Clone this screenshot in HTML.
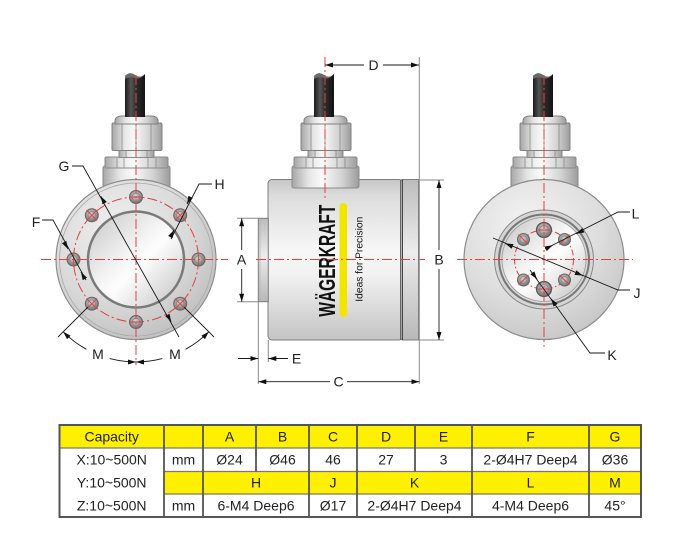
<!DOCTYPE html>
<html><head><meta charset="utf-8"><style>
html,body{margin:0;padding:0;background:#fff;}
svg{display:block;}
text{font-family:"Liberation Sans",Arial,sans-serif;}
</style></head><body>
<svg width="700" height="541" viewBox="0 0 700 541" xmlns="http://www.w3.org/2000/svg">
<defs>
 <linearGradient id="mh" x1="0" y1="0" x2="1" y2="0">
  <stop offset="0" stop-color="#a6a6a6"/><stop offset=".25" stop-color="#e6e6e6"/><stop offset=".45" stop-color="#fafafa"/><stop offset=".75" stop-color="#d2d2d2"/><stop offset="1" stop-color="#9c9c9c"/>
 </linearGradient>
 <linearGradient id="cab" x1="0" y1="0" x2="1" y2="0">
  <stop offset="0" stop-color="#1a1a1a"/><stop offset=".3" stop-color="#555"/><stop offset=".55" stop-color="#2e2e2e"/><stop offset="1" stop-color="#121212"/>
 </linearGradient>
 <linearGradient id="body" x1="0" y1="0" x2="0" y2="1">
  <stop offset="0" stop-color="#c6c6c6"/><stop offset=".1" stop-color="#dcdcdc"/><stop offset=".45" stop-color="#f7f7f7"/><stop offset=".6" stop-color="#f1f1f1"/><stop offset="1" stop-color="#c4c4c4"/>
 </linearGradient>
 <linearGradient id="fl" x1="0" y1="0" x2="0" y2="1">
  <stop offset="0" stop-color="#bcbcbc"/><stop offset=".45" stop-color="#ececec"/><stop offset="1" stop-color="#b8b8b8"/>
 </linearGradient>
 <radialGradient id="disk" cx=".38" cy=".32" r=".75">
  <stop offset="0" stop-color="#f0f0f0"/><stop offset=".6" stop-color="#d9d9d9"/><stop offset="1" stop-color="#bdbdbd"/>
 </radialGradient>
 <radialGradient id="disk2" cx=".4" cy=".3" r=".8">
  <stop offset="0" stop-color="#f3f3f3"/><stop offset=".55" stop-color="#dedede"/><stop offset="1" stop-color="#c2c2c2"/>
 </radialGradient>
 <linearGradient id="rec" x1="0" y1="0" x2="1" y2="1">
  <stop offset="0" stop-color="#c4c4c4"/><stop offset=".45" stop-color="#f6f6f6"/><stop offset=".55" stop-color="#fdfdfd"/><stop offset="1" stop-color="#bfbfbf"/>
 </linearGradient>
 <radialGradient id="bg" cx=".45" cy=".4" r=".6">
  <stop offset="0" stop-color="#d4d4d4"/><stop offset=".6" stop-color="#9c9c9c"/><stop offset="1" stop-color="#707070"/>
 </radialGradient>
 <marker id="a" viewBox="0 0 8 5" refX="8" refY="2.5" markerWidth="8" markerHeight="5" markerUnits="userSpaceOnUse" orient="auto-start-reverse"><path d="M0,0L8,2.5L0,5z" fill="#111"/></marker>
 <g id="top">
  <rect x="103" y="166" width="67" height="22" rx="2" fill="url(#mh)" stroke="#8a8a8a"/>
  <rect x="105" y="157" width="63" height="11" rx="1.5" fill="url(#mh)" stroke="#8a8a8a"/>
  <path d="M117,157V168M124,157V168M148,157V168M156,157V168" stroke="#8a8a8a" stroke-width=".8"/>
  <rect x="119" y="150" width="35" height="7.5" fill="url(#mh)" stroke="#8a8a8a"/>
  <path d="M126,150V157.5M147,150V157.5" stroke="#8a8a8a" stroke-width=".8"/>
  <rect x="112" y="123" width="50" height="27.5" rx="1.5" fill="url(#mh)" stroke="#808080"/>
  <path d="M122,124V150M136,124V150M151,124V150" stroke="#8a8a8a" stroke-width=".8"/>
  <path d="M115,124L115,120Q116,116 122,116L151,116Q157,116 158,120L158,124Z" fill="url(#mh)" stroke="#808080"/>
  <path d="M125,76Q130,71 135,75T145,74L145,117L125,117Z" fill="url(#cab)"/>
  <path d="M125,76Q130,71 135,75T145,74Q140,80 135,78Q130,76 125,79Z" fill="#6a6a6a"/>
 </g>
 <g id="bolt"><circle r="6.5" fill="url(#bg)" stroke="#666" stroke-width="1"/><circle r="3.8" fill="none" stroke="#8a8a8a" stroke-width=".8"/></g>
 <g id="boltb"><circle r="7.5" fill="url(#bg)" stroke="#555" stroke-width="1.2"/><circle r="4.5" fill="none" stroke="#888" stroke-width=".8"/></g>
 <g id="bolts"><circle r="6" fill="url(#bg)" stroke="#666" stroke-width="1"/><circle r="3.5" fill="none" stroke="#8a8a8a" stroke-width=".8"/></g>
</defs>

<!-- ========== LEFT VIEW ========== -->
<use href="#top"/>
<circle cx="136" cy="259.5" r="80" fill="url(#disk)" stroke="#8c8c8c" stroke-width="1.2"/>
<circle cx="136" cy="259.5" r="76.5" fill="none" stroke="#a8a8a8" stroke-width=".8"/>
<circle cx="136" cy="259.5" r="48" fill="url(#rec)" stroke="#7a7a7a" stroke-width="2.5"/>
<circle cx="136" cy="259.5" r="62.5" fill="none" stroke="#e53e3e" stroke-width="1" stroke-dasharray="10 3 2 3"/>
<use href="#bolt" x="198.5" y="259.5"/>
<use href="#bolt" x="180.2" y="303.7"/>
<use href="#bolt" x="136" y="322"/>
<use href="#bolt" x="91.8" y="303.7"/>
<use href="#bolt" x="73.5" y="259.5"/>
<use href="#bolt" x="91.8" y="215.3"/>
<use href="#bolt" x="136" y="197"/>
<use href="#bolt" x="180.2" y="215.3"/>
<g stroke="#e53e3e" stroke-width=".9">
 <path d="M174.9,298.4L185.5,309M97.1,298.4L86.5,309M97.1,220.6L86.5,210M174.9,220.6L185.5,210"/>
 <path d="M174.9,309L185.5,298.4M86.5,298.4L97.1,309M86.5,220.6L97.1,210M174.9,210L185.5,220.6"/>
 <path d="M198.5,253V266M73.5,253V266M129.5,322H142.5M129.5,197H142.5"/>
</g>
<g stroke="#e53e3e" stroke-width="1" stroke-dasharray="10 3 2 3" fill="none">
 <line x1="41" y1="259.5" x2="228" y2="259.5"/>
 <line x1="136" y1="75" x2="136" y2="365"/>
</g>
<!-- left labels -->
<g stroke="#1a1a1a" stroke-width=".9" fill="none">
 <polyline points="72,166 83,166 179,337"/>
 <line x1="104.2" y1="202.3" x2="100.8" y2="196.2" marker-end="url(#a)"/>
 <line x1="167.8" y1="315.7" x2="171.2" y2="321.8" marker-end="url(#a)"/>
 <polyline points="212,184 199,184 171,239"/>
 <line x1="190.2" y1="197.8" x2="187" y2="204" marker-end="url(#a)"/>
 <line x1="170.8" y1="236.2" x2="174" y2="230" marker-end="url(#a)"/>
 <polyline points="42,220 53,220 86,280"/>
 <line x1="64.6" y1="242.9" x2="68" y2="249" marker-end="url(#a)"/>
 <line x1="84.4" y1="278.1" x2="81" y2="272" marker-end="url(#a)"/>
 <line x1="88" y1="307" x2="58" y2="337"/>
 <line x1="184" y1="307" x2="214" y2="337"/>
 <path d="M86.4,349.3A103,103 0 0,1 63.2,331.8" marker-end="url(#a)"/>
 <path d="M109.7,358.6A103,103 0 0,0 136,362" marker-end="url(#a)"/>
 <path d="M185.6,349.3A103,103 0 0,0 208.8,331.8" marker-end="url(#a)"/>
 <path d="M162.3,358.6A103,103 0 0,1 136,362" marker-end="url(#a)"/>
</g>
<g font-size="14" fill="#222" text-anchor="middle">
 <text x="64" y="171">G</text>
 <text x="219.5" y="189">H</text>
 <text x="36" y="227">F</text>
 <text x="98" y="359">M</text>
 <text x="175" y="359">M</text>
</g>

<!-- ========== MIDDLE VIEW ========== -->
<rect x="268" y="179.5" width="135" height="160.5" rx="4" fill="url(#body)" stroke="#7d7d7d"/>
<rect x="402" y="179.5" width="16.5" height="160.5" fill="url(#fl)" stroke="#7d7d7d"/>
<line x1="400.5" y1="179.5" x2="400.5" y2="340" stroke="#666" stroke-width="1"/>
<line x1="402.5" y1="179.5" x2="402.5" y2="340" stroke="#444" stroke-width="1"/>
<rect x="258.3" y="218.3" width="10" height="83.4" fill="url(#fl)" stroke="#7d7d7d"/>
<line x1="260" y1="219" x2="260" y2="301" stroke="#aaa" stroke-width=".6"/>
<use href="#top" x="189"/>
<text transform="translate(335,316.7) rotate(-90)" font-family="'Liberation Sans Narrow','Liberation Sans',sans-serif" font-size="23" font-weight="bold" textLength="112" lengthAdjust="spacingAndGlyphs" fill="#111">WÄGERKRAFT</text>
<rect x="339.5" y="203" width="7.5" height="114" rx="3.75" fill="#f5e400"/>
<text transform="translate(362.5,301.7) rotate(-90)" font-size="10" textLength="85" lengthAdjust="spacingAndGlyphs" fill="#111">Ideas for Precision</text>
<g stroke="#e53e3e" stroke-width="1" stroke-dasharray="10 3 2 3" fill="none">
 <line x1="325" y1="57" x2="325" y2="198"/>
 <line x1="256" y1="259.5" x2="425" y2="259.5"/>
</g>
<!-- extension lines -->
<g stroke="#8a8a8a" stroke-width="1">
 <line x1="419.3" y1="57" x2="419.3" y2="384"/>
 <line x1="419" y1="180" x2="444" y2="180"/>
 <line x1="419" y1="340" x2="444" y2="340"/>
 <line x1="237" y1="218.3" x2="258" y2="218.3"/>
 <line x1="237" y1="301.7" x2="258" y2="301.7"/>
 <line x1="258.3" y1="302" x2="258.3" y2="384"/>
 <line x1="268.3" y1="340" x2="268.3" y2="362"/>
</g>
<g stroke="#1a1a1a" stroke-width=".9" fill="none">
 <line x1="325" y1="65" x2="364" y2="65" marker-start="url(#a)"/>
 <line x1="383" y1="65" x2="419" y2="65" marker-end="url(#a)"/>
 <line x1="439" y1="180" x2="439" y2="250" marker-start="url(#a)"/>
 <line x1="439" y1="269" x2="439" y2="340" marker-end="url(#a)"/>
 <line x1="241.7" y1="218.3" x2="241.7" y2="250" marker-start="url(#a)"/>
 <line x1="241.7" y1="269" x2="241.7" y2="301.7" marker-end="url(#a)"/>
 <line x1="238" y1="358.5" x2="258.3" y2="358.5" marker-end="url(#a)"/>
 <line x1="288" y1="358.5" x2="268.3" y2="358.5" marker-end="url(#a)"/>
 <line x1="258.3" y1="381.7" x2="330" y2="381.7" marker-start="url(#a)"/>
 <line x1="347" y1="381.7" x2="419.3" y2="381.7" marker-end="url(#a)"/>
</g>
<g font-size="14" fill="#222" text-anchor="middle">
 <text x="373.5" y="70">D</text>
 <text x="439" y="264.5">B</text>
 <text x="241.5" y="264.5">A</text>
 <text x="296.5" y="363.5">E</text>
 <text x="338.5" y="386.5">C</text>
</g>

<!-- ========== RIGHT VIEW ========== -->
<use href="#top" x="408"/>
<circle cx="544" cy="259.5" r="80" fill="url(#disk2)" stroke="#8c8c8c" stroke-width="1.2"/>
<circle cx="544" cy="259.5" r="49.5" fill="#d6d6d6" stroke="#888" stroke-width="1"/>
<circle cx="544" cy="259.5" r="45" fill="none" stroke="#777" stroke-width="2"/>
<circle cx="544" cy="259.5" r="42" fill="url(#rec)" stroke="#999" stroke-width=".8"/>
<circle cx="544" cy="259.5" r="29.5" fill="none" stroke="#e53e3e" stroke-width="1" stroke-dasharray="6 2.5 1.5 2.5"/>
<use href="#boltb" x="544" y="230"/>
<use href="#boltb" x="544" y="289"/>
<use href="#bolts" x="523.5" y="239.5"/>
<use href="#bolts" x="564.5" y="239.5"/>
<use href="#bolts" x="523.5" y="280"/>
<use href="#bolts" x="564.5" y="280"/>
<g stroke="#e53e3e" stroke-width=".9">
 <path d="M538,230H550M538,289H550M518.5,234.5L528.5,244.5M559.5,244.5L569.5,234.5M518.5,285L528.5,275M559.5,275L569.5,285"/>
</g>
<g stroke="#e53e3e" stroke-width="1" stroke-dasharray="10 3 2 3" fill="none">
 <line x1="457" y1="259.5" x2="633" y2="259.5"/>
 <line x1="544" y1="75" x2="544" y2="347"/>
</g>
<g stroke="#1a1a1a" stroke-width=".9" fill="none">
 <polyline points="630,212 618,212 545,249"/>
 <line x1="582.5" y1="230.7" x2="576.2" y2="233.8" marker-end="url(#a)"/>
 <line x1="546.5" y1="248.3" x2="552.8" y2="245.2" marker-end="url(#a)"/>
 <polyline points="630,290 618,290 493,238"/>
 <line x1="511.7" y1="246.1" x2="505.2" y2="243.4" marker-end="url(#a)"/>
 <line x1="576.3" y1="272.9" x2="582.8" y2="275.6" marker-end="url(#a)"/>
 <polyline points="605,353 590,353 530,270"/>
 <line x1="532.9" y1="273.6" x2="537" y2="279.3" marker-end="url(#a)"/>
 <line x1="555.1" y1="304.4" x2="551" y2="298.7" marker-end="url(#a)"/>
</g>
<g font-size="14" fill="#222" text-anchor="middle">
 <text x="635.5" y="218.5">L</text>
 <text x="637" y="298">J</text>
 <text x="612" y="360">K</text>
</g>

<!-- ========== TABLE ========== -->
<rect x="59.5" y="425" width="581.5" height="23" fill="#fff000"/>
<rect x="164" y="471.5" width="477" height="22.5" fill="#fff000"/>
<g stroke="#777" stroke-width="1.2">
 <line x1="59.5" y1="448" x2="641" y2="448"/>
 <line x1="164" y1="471.5" x2="641" y2="471.5"/>
 <line x1="164" y1="494" x2="641" y2="494"/>
</g>
<g stroke="#555" stroke-width="1.8">
 <line x1="164" y1="425" x2="164" y2="517"/>
 <line x1="203" y1="425" x2="203" y2="517"/>
 <line x1="309" y1="425" x2="309" y2="517"/>
 <line x1="357" y1="425" x2="357" y2="517"/>
 <line x1="472" y1="425" x2="472" y2="517"/>
 <line x1="589" y1="425" x2="589" y2="517"/>
 <line x1="256" y1="425" x2="256" y2="471.5"/>
 <line x1="415" y1="425" x2="415" y2="471.5"/>
</g>
<rect x="59.5" y="425" width="581.5" height="92" fill="none" stroke="#555" stroke-width="2"/>
<g font-size="14" fill="#222" text-anchor="middle">
 <text x="111.7" y="441.5">Capacity</text>
 <text x="229.5" y="441.5">A</text>
 <text x="282.5" y="441.5">B</text>
 <text x="333" y="441.5">C</text>
 <text x="386" y="441.5">D</text>
 <text x="443.5" y="441.5">E</text>
 <text x="530.5" y="441.5">F</text>
 <text x="615" y="441.5">G</text>

 <text x="111.7" y="464.7">X:10~500N</text>
 <text x="183.5" y="464.7">mm</text>
 <text x="229.5" y="464.7">Ø24</text>
 <text x="282.5" y="464.7">Ø46</text>
 <text x="333" y="464.7">46</text>
 <text x="386" y="464.7">27</text>
 <text x="443.5" y="464.7">3</text>
 <text x="530.5" y="464.7">2-Ø4H7 Deep4</text>
 <text x="615" y="464.7">Ø36</text>

 <text x="111.7" y="487.7">Y:10~500N</text>
 <text x="256" y="487.7">H</text>
 <text x="333" y="487.7">J</text>
 <text x="414.5" y="487.7">K</text>
 <text x="530.5" y="487.7">L</text>
 <text x="615" y="487.7">M</text>

 <text x="111.7" y="510.5">Z:10~500N</text>
 <text x="183.5" y="510.5">mm</text>
 <text x="256" y="510.5">6-M4 Deep6</text>
 <text x="333" y="510.5">Ø17</text>
 <text x="414.5" y="510.5">2-Ø4H7 Deep4</text>
 <text x="530.5" y="510.5">4-M4 Deep6</text>
 <text x="615" y="510.5">45°</text>
</g>
</svg>
</body></html>
